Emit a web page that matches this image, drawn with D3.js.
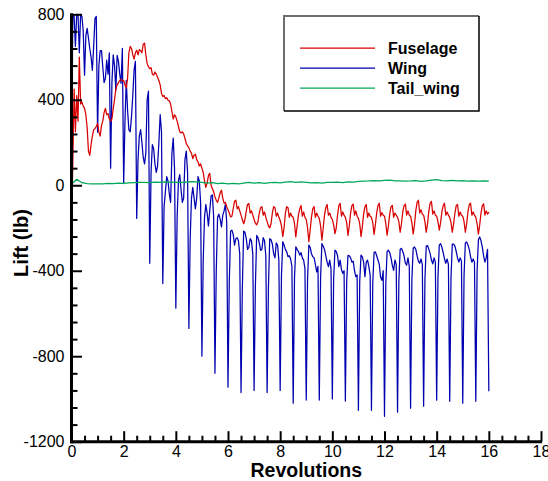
<!DOCTYPE html>
<html>
<head>
<meta charset="utf-8">
<script src="https://cdn.jsdelivr.net/npm/d3@7/dist/d3.min.js"></script>
<style>
  html, body { margin: 0; padding: 0; background: #fff; }
  svg { display: block; font-family: "Liberation Sans", Arial, sans-serif; }
</style>
</head>
<body>
<svg id="chart" width="548" height="481"></svg>
<script>
// Lift history per component, sampled every 0.05 revolution (Fuselage, Wing)
const sampleStep = 0.05;

const wingLift = [
  0, 800, 790, 650, 800, 800, 620, 800, 790, 720,
  515, 700, 734, 690, 640, 600, 538, 650, 780, 790,
  248, 560, 630, 630, 552, 480, 500, 585, 520, 620,
  80, 480, 610, 560, 445, 608, 580, 520, 477, 640,
  8, 300, 491, 350, 260, 250, 320, 420, 540, 580,
  -155, 120, 230, 260, 200, 130, 100, 150, 400, 440,
  -365, 60, 190, 170, 100, 60, 90, 200, 330, 250,
  -460, -100, -30, 40, 20, -40, -80, 150, 220, 80,
  -575, -150, 20, 50, -20, -80, -60, 120, 160, 60,
  -670, -250, -60, -10, -60, -110, -60, 40, 20, -80,
  -800, -350, -150, -90, -130, -190, -120, -50, -45, -150,
  -880, -400, -150, -135, -160, -195, -140, -120, -90, -170,
  -945, -450, -215, -210, -230, -280, -250, -245, -260, -320,
  -970, -480, -215, -220, -250, -300, -290, -250, -260, -320,
  -960, -470, -235, -245, -270, -305, -300, -245, -260, -330,
  -970, -480, -250, -255, -275, -320, -340, -270, -280, -350,
  -960, -420, -264, -280, -300, -311, -334, -330, -345, -380,
  -1020, -430, -288, -300, -310, -327, -315, -340, -350, -390,
  -1005, -440, -280, -290, -320, -334, -340, -370, -405, -380,
  -1005, -430, -273, -285, -300, -330, -360, -381, -350, -390,
  -1000, -440, -304, -310, -330, -381, -350, -395, -412, -400,
  -1010, -450, -328, -330, -340, -360, -355, -400, -428, -420,
  -1053, -450, -327, -335, -360, -428, -360, -350, -380, -420,
  -1053, -460, -315, -312, -330, -350, -370, -430, -445, -400,
  -1081, -460, -310, -304, -315, -340, -375, -398, -350, -370,
  -1062, -450, -300, -295, -310, -330, -365, -374, -340, -380,
  -1043, -440, -295, -289, -300, -330, -355, -365, -345, -370,
  -1034, -440, -285, -282, -300, -320, -350, -368, -340, -360,
  -1006, -430, -280, -273, -290, -315, -345, -365, -345, -370,
  -1011, -430, -275, -275, -285, -310, -340, -360, -340, -355,
  -1020, -420, -270, -265, -280, -300, -335, -360, -345, -360,
  -1011, -400, -255, -242, -260, -290, -330, -360, -340, -300,
  -964
];

const fuselageLift = [
  -200, 100, 450, 250, 420, 300, 600, 380, 390, 370,
  360, 330, 270, 160, 140, 190, 230, 260, 265, 275,
  290, 250, 230, 280, 300, 340, 360, 330, 335, 310,
  300, 310, 360, 400, 450, 470, 480, 490, 495, 490,
  490, 470, 455, 500, 620, 650, 640, 610, 590, 620,
  632, 610, 635, 630, 620, 660, 665, 610, 570, 555,
  545, 550, 520, 515, 530, 520, 505, 490, 470, 430,
  415, 420, 405, 410, 398, 395, 380, 345, 310, 330,
  320, 300, 275, 250, 245, 250, 240, 220, 195, 185,
  175, 160, 150, 125, 140, 145, 120, 110, 90, 100,
  80, 60, 20, -10, 10, 45, 56, 0, -15, -30,
  -55, -70, -80, -60, -35, -23, -60, -84, -80, -100,
  -115, -130, -148, -145, -110, -75, -70, -110, -100, -120,
  -140, -160, -180, -160, -120, -90, -86, -130, -120, -140,
  -160, -178, -185, -170, -130, -105, -100, -140, -125, -150,
  -170, -190, -200, -180, -130, -100, -105, -145, -130, -150,
  -165, -190, -240, -200, -130, -100, -105, -150, -130, -145,
  -150, -180, -242, -190, -140, -110, -95, -145, -125, -150,
  -160, -200, -264, -210, -150, -110, -100, -150, -130, -145,
  -155, -190, -257, -200, -140, -105, -90, -140, -130, -150,
  -160, -185, -226, -200, -140, -95, -85, -145, -125, -140,
  -150, -175, -235, -190, -130, -95, -88, -140, -120, -145,
  -155, -180, -240, -195, -135, -100, -90, -150, -130, -145,
  -150, -175, -230, -185, -130, -95, -84, -145, -128, -140,
  -145, -180, -234, -190, -135, -100, -94, -150, -130, -140,
  -150, -170, -220, -180, -125, -95, -88, -140, -120, -140,
  -145, -175, -229, -185, -120, -80, -70, -130, -115, -135,
  -140, -170, -220, -180, -120, -85, -75, -135, -120, -140,
  -145, -170, -210, -175, -125, -95, -84, -140, -125, -140,
  -150, -175, -220, -180, -130, -95, -90, -145, -125, -140,
  -145, -170, -220, -180, -125, -90, -84, -140, -125, -140,
  -150, -180, -229, -185, -130, -95, -87, -140, -120, -135,
  -125
];

// Tail wing lift, sampled every 0.2 revolution
const tailStep = 0.2;
const tailWingLift = [
  5, 28, 12, 8, 7, 6, 7, 9, 8, 10,
  9, 11, 12, 13, 14, 12, 15, 14, 16, 15,
  14, 13, 15, 17, 16, 14, 10, 12, 8, 10,
  7, 9, 6, 10, 14, 10, 12, 9, 12, 14,
  11, 15, 17, 13, 16, 14, 11, 12, 10, 14,
  13, 15, 12, 16, 15, 18, 19, 20, 22, 21,
  23, 24, 21, 20, 19, 20, 22, 18, 20, 24,
  26, 22, 20, 23, 21, 22, 19, 20, 19, 20,
  19
];

const seriesNames = ["Fuselage", "Wing", "Tail_wing"];
const seriesColors = ["#d80000", "#0000b0", "#00a859"];

const xMajorTicks = [0, 2, 4, 6, 8, 10, 12, 14, 16, 18];
const yMajorTicks = [-1200, -800, -400, 0, 400, 800];
const xTitle = "Revolutions";
const yTitle = "Lift (lb)";

// ---- layout ----
const svg = d3.select("#chart");
const plot = { left: 71.5, right: 541, top: 14.3, bottom: 441.7 };

const x = d3.scaleLinear().domain([0, 18]).range([plot.left, plot.right]);
const y = d3.scaleLinear().domain([-1200, 800]).range([plot.bottom, plot.top]);

svg.append("defs").append("clipPath").attr("id", "plotClip")
  .append("rect")
  .attr("x", plot.left).attr("y", plot.top - 1)
  .attr("width", plot.right - plot.left).attr("height", plot.bottom - plot.top + 1);

const toPoints = (vals, step) => vals.map((v, i) => [i * step, v]);

const line = d3.line().x(d => x(d[0])).y(d => y(d[1]));

const seriesData = [
  toPoints(fuselageLift, sampleStep),
  toPoints(wingLift, sampleStep),
  toPoints(tailWingLift, tailStep)
];

const lines = svg.append("g").attr("clip-path", "url(#plotClip)");
// wing underneath, then fuselage, then tail wing on top
[1, 0, 2].forEach(k => {
  lines.append("path")
    .datum(seriesData[k])
    .attr("fill", "none")
    .attr("stroke", seriesColors[k])
    .attr("stroke-width", 1.25)
    .attr("stroke-linejoin", "round")
    .attr("d", line);
});

// ---- axes (ticks point inward) ----
const plainNumber = d => String(d);  // ASCII hyphen for negatives
const xMinor = d3.range(0, 18.001, 0.5).filter(v => !xMajorTicks.includes(v));
const yMinor = d3.range(-1200, 801, 80).filter(v => !yMajorTicks.includes(v));

svg.append("g").attr("transform", `translate(0,${plot.bottom})`)
  .call(d3.axisBottom(x).tickValues(xMinor).tickFormat("").tickSize(-6).tickSizeOuter(0));
svg.append("g").attr("transform", `translate(0,${plot.bottom})`)
  .call(d3.axisBottom(x).tickValues(xMajorTicks).tickFormat(plainNumber).tickSize(-10.5).tickSizeOuter(0).tickPadding(4));

svg.append("g").attr("transform", `translate(${plot.left},0)`)
  .call(d3.axisLeft(y).tickValues(yMinor).tickFormat("").tickSize(-6).tickSizeOuter(0));
svg.append("g").attr("transform", `translate(${plot.left},0)`)
  .call(d3.axisLeft(y).tickValues(yMajorTicks).tickFormat(plainNumber).tickSize(-10.5).tickSizeOuter(0).tickPadding(7));

svg.selectAll(".domain").remove();
svg.selectAll(".tick line").attr("stroke", "#000").attr("stroke-width", 2);
svg.selectAll(".tick text")
  .attr("fill", "#000")
  .style("font-size", "16px")
  .style("font-family", "'Liberation Sans', Arial, sans-serif");

// axis lines
svg.append("line")
  .attr("x1", plot.left).attr("x2", plot.left)
  .attr("y1", plot.top - 1).attr("y2", plot.bottom + 1.5)
  .attr("stroke", "#000").attr("stroke-width", 3);
svg.append("line")
  .attr("x1", plot.left - 1.5).attr("x2", plot.right + 1)
  .attr("y1", plot.bottom).attr("y2", plot.bottom)
  .attr("stroke", "#000").attr("stroke-width", 3);

// axis titles
svg.append("text")
  .attr("x", (plot.left + plot.right) / 2).attr("y", 476.5)
  .attr("text-anchor", "middle")
  .style("font-size", "19.5px").style("font-weight", "bold")
  .text(xTitle);

svg.append("text")
  .attr("transform", `translate(28,${(plot.top + plot.bottom) / 2 + 15}) rotate(-90)`)
  .attr("text-anchor", "middle")
  .style("font-size", "20px").style("font-weight", "bold")
  .text(yTitle);

// ---- legend ----
const legend = { x0: 284, y0: 16, x1: 479, y1: 111 };
const lg = svg.append("g");
lg.append("rect")
  .attr("x", legend.x0).attr("y", legend.y0)
  .attr("width", legend.x1 - legend.x0).attr("height", legend.y1 - legend.y0)
  .attr("fill", "#fff").attr("stroke", "none");
lg.append("path")
  .attr("d", `M${legend.x0},${legend.y1} V${legend.y0} H${legend.x1}`)
  .attr("fill", "none").attr("stroke", "#6e6e6e").attr("stroke-width", 2);
lg.append("path")
  .attr("d", `M${legend.x1},${legend.y0} V${legend.y1} H${legend.x0}`)
  .attr("fill", "none").attr("stroke", "#000").attr("stroke-width", 1.5);

seriesNames.forEach((name, i) => {
  const yy = 48 + i * 20;
  lg.append("line")
    .attr("x1", 300).attr("x2", 375)
    .attr("y1", yy).attr("y2", yy)
    .attr("stroke", seriesColors[i]).attr("stroke-width", 1.25);
  lg.append("text")
    .attr("x", 388).attr("y", yy + 5.5)
    .style("font-size", "16px").style("font-weight", "bold")
    .text(name);
});
</script>
</body>
</html>
